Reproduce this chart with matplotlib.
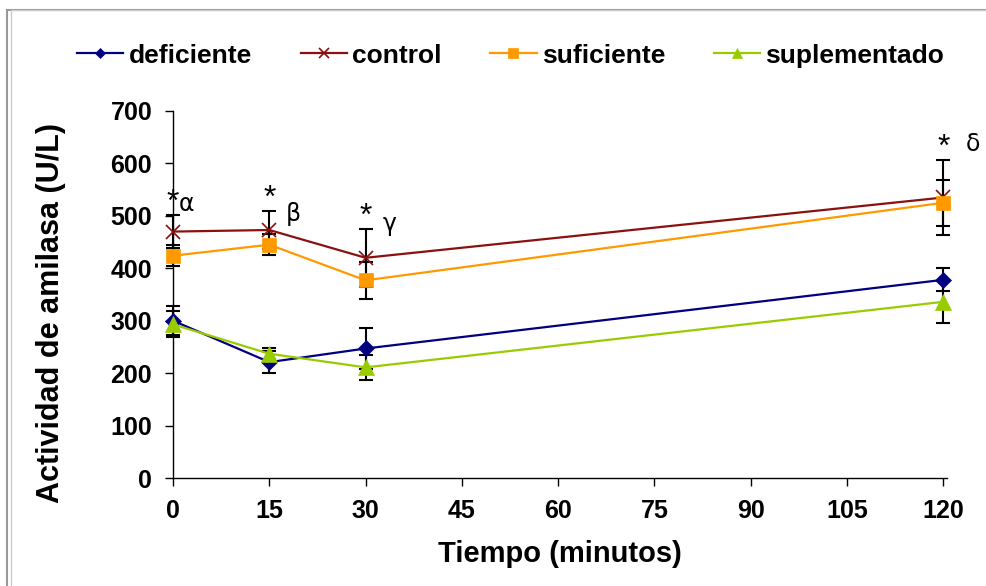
import matplotlib.pyplot as plt
from matplotlib.patches import Rectangle

plt.rcParams['font.family'] = ['Liberation Sans', 'DejaVu Sans']

tiempo = [0, 15, 30, 120]

deficiente = [300, 221, 247, 378]
deficiente_err = [28, 21, 39, 22]
control = [470, 473, 420, 535]
control_err = [32, 36, 55, 72]
suficiente = [424, 445, 377, 525]
suficiente_err = [20, 20, 35, 44]
suplementado = [293, 237, 211, 336]
suplementado_err = [25, 10, 24, 40]

estrellas = ['*', '*', '*', '*']
letras = ['α', 'β', 'γ', 'δ']

fig = plt.figure(figsize=(9.86, 5.86), dpi=100)
ax = fig.add_axes([0.1755, 0.1843, 0.7845, 0.6263])

series = [
    ('deficiente', deficiente, deficiente_err, '#000080', 'D', 8),
    ('control', control, control_err, '#8B1010', 'x', 10),
    ('suficiente', suficiente, suficiente_err, '#FF9900', 's', 10),
    ('suplementado', suplementado, suplementado_err, '#99CC00', '^', 11),
]

for name, vals, err, col, mk, ms in series:
    ax.errorbar(tiempo, vals, yerr=err, fmt='none', ecolor='black',
                elinewidth=1.5, capsize=5, capthick=1.5, zorder=2, clip_on=False)

for name, vals, err, col, mk, ms in series:
    ax.plot(tiempo, vals, color=col, marker=mk, markersize=ms, lw=1.6,
            markeredgecolor=col, markeredgewidth=1.2 if mk == 'x' else 0.5,
            label=name, zorder=3, clip_on=False)

# significance marks
tops = [max(c + ce, s + se) for c, ce, s, se in zip(control, control_err, suficiente, suficiente_err)]
letra_off = [(10, -2), (17, -12), (17, -6), (21, 2)]
for x, top, st, le, off in zip(tiempo, tops, estrellas, letras, letra_off):
    ax.annotate(st, (x, top), xytext=(0, -2), textcoords='offset points',
                ha='center', va='bottom', fontsize=23, annotation_clip=False)
    ax.annotate(le, (x, top), xytext=(off[0], 1 + off[1]), textcoords='offset points',
                ha='center', va='bottom', fontsize=17, family=['DejaVu Sans'],
                annotation_clip=False)

ax.set_xlim(0, 120.5)
ax.set_ylim(0, 700)
ax.set_xticks(range(0, 121, 15))
ax.set_yticks(range(0, 701, 100))
ax.spines['top'].set_visible(False)
ax.spines['right'].set_visible(False)
ax.spines['left'].set_linewidth(1.0)
ax.spines['bottom'].set_linewidth(1.0)
ax.tick_params(direction='out', length=6, width=1.0, labelsize=18, pad=9)
for lab in ax.get_xticklabels() + ax.get_yticklabels():
    lab.set_fontweight('bold')

ax.set_xlabel('Tiempo (minutos)', fontsize=21, fontweight='bold', labelpad=12)
ax.set_ylabel('Actividad de amilasa (U/L)', fontsize=22, fontweight='bold')
ax.yaxis.set_label_coords(-0.138, 0.45)

leg = fig.legend(loc='center', bbox_to_anchor=(0.518, 0.905), ncol=4, frameon=False,
                 prop={'size': 19, 'weight': 'bold'}, handlelength=1.75,
                 handletextpad=0.2, columnspacing=1.85, markerscale=0.7)

# outer frame like the original image
fig.patches.append(Rectangle((7 / 986, -0.1), 1.2, 1 - 10 / 586 + 0.1,
                             transform=fig.transFigure, fill=False,
                             edgecolor='#999999', lw=1.5))
fig.patches.append(Rectangle((11 / 986, -0.1), 1.2, 1 - 10 / 586 + 0.1,
                             transform=fig.transFigure, fill=False,
                             edgecolor='#cccccc', lw=1.0))

fig.savefig('out.png', dpi=100)
